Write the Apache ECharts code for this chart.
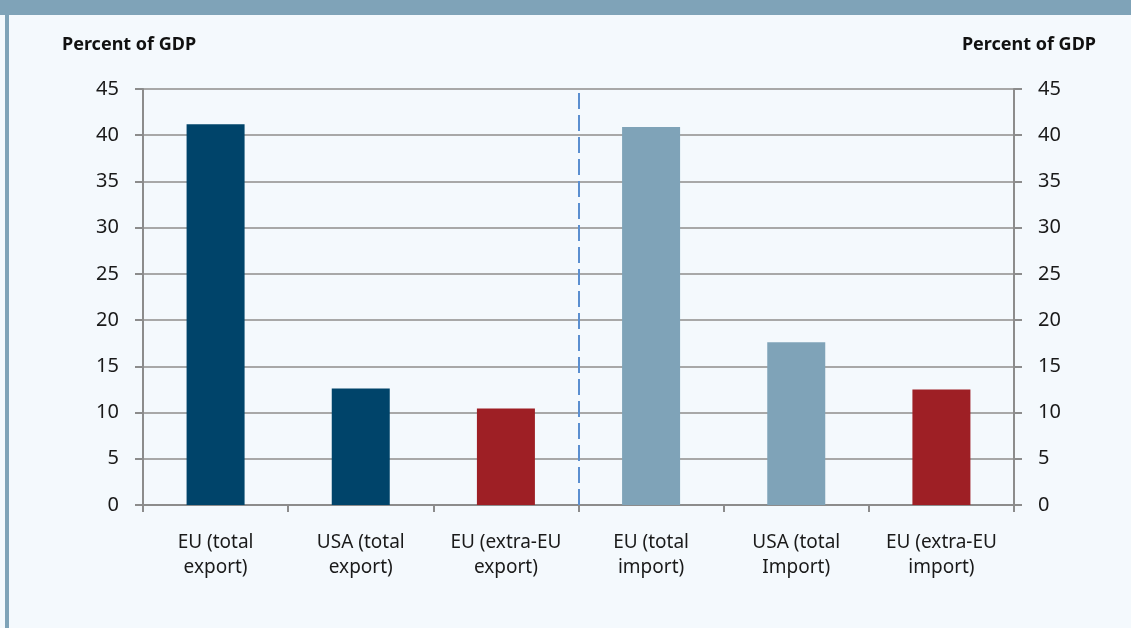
<!DOCTYPE html>
<html>
<head>
<meta charset="utf-8">
<script src="https://cdn.jsdelivr.net/npm/echarts@6/dist/echarts.min.js"></script>
<style>
html,body{margin:0;padding:0;background:#f4f9fd;}
#frame{position:absolute;left:0;top:0;width:1131px;height:628px;background:#f4f9fd;}
#topbar{position:absolute;left:0;top:0;width:1131px;height:15px;background:#7fa3b8;}
#leftbar{position:absolute;left:5px;top:15px;width:4px;height:613px;background:#7fa3b8;}
#chart{position:absolute;left:0;top:0;width:1131px;height:628px;}
</style>
</head>
<body>
<div id="frame"></div>
<div id="topbar"></div>
<div id="leftbar"></div>
<div id="chart"></div>
<script>
const categories = ['EU (total\nexport)', 'USA (total\nexport)', 'EU (extra-EU\nexport)', 'EU (total\nimport)', 'USA (total\nImport)', 'EU (extra-EU\nimport)'];
const values = [41.2, 12.6, 10.45, 40.9, 17.6, 12.5];
const barColors = ['#00446a', '#00446a', '#9e1f25', '#7fa3b8', '#7fa3b8', '#9e1f25'];
const dividerPosition = [3];
const yTicks = {min: 0, max: 45, interval: 5};
const axisName = 'Percent of GDP';

const chart = echarts.init(document.getElementById('chart'));
const font = 'Noto Sans';
const yAxisBase = {
  type: 'value', min: yTicks.min, max: yTicks.max, interval: yTicks.interval,
  axisLine: {show: true, lineStyle: {color: '#8c8c8c', width: 2}},
  axisTick: {show: true, length: 8, lineStyle: {color: '#8c8c8c', width: 2}},
  axisLabel: {color: '#1a1a1a', fontSize: 20, fontFamily: font, margin: 24}
};
chart.setOption({
  backgroundColor: 'transparent',
  animation: false,
  title: [
    {text: axisName, left: 62, top: 36, padding: 0, textStyle: {fontSize: 18, fontWeight: 'bold', color: '#111', fontFamily: font}},
    {text: axisName, right: 35, top: 36, padding: 0, textStyle: {fontSize: 18, fontWeight: 'bold', color: '#111', fontFamily: font}}
  ],
  grid: {left: 143, right: 117, top: 89, bottom: 123, containLabel: false},
  xAxis: [
    {
      type: 'category', data: categories,
      axisLine: {lineStyle: {color: '#8c8c8c', width: 2}},
      axisTick: {show: true, alignWithLabel: false, length: 7, lineStyle: {color: '#8c8c8c', width: 2}},
      axisLabel: {color: '#1a1a1a', fontSize: 19, fontFamily: font, lineHeight: 25, margin: 25, interval: 0}
    },
    {type: 'value', min: 0, max: categories.length, show: false}
  ],
  yAxis: [
    Object.assign({}, yAxisBase, {position: 'left', splitLine: {show: true, lineStyle: {color: '#a8a8a8', width: 2}}}),
    Object.assign({}, yAxisBase, {position: 'right', splitLine: {show: false}})
  ],
  series: [
    {
      type: 'bar', xAxisIndex: 0, yAxisIndex: 0, barWidth: 58,
      data: values.map((v, i) => ({value: v, itemStyle: {color: barColors[i]}}))
    },
    {
      type: 'line', xAxisIndex: 1, yAxisIndex: 0, data: [],
      markLine: {
        silent: true, symbol: 'none', label: {show: false},
        lineStyle: {color: '#5b8fd0', width: 2, type: [16, 6]},
        data: dividerPosition.map(x => ({xAxis: x}))
      }
    }
  ]
});
</script>
</body>
</html>
